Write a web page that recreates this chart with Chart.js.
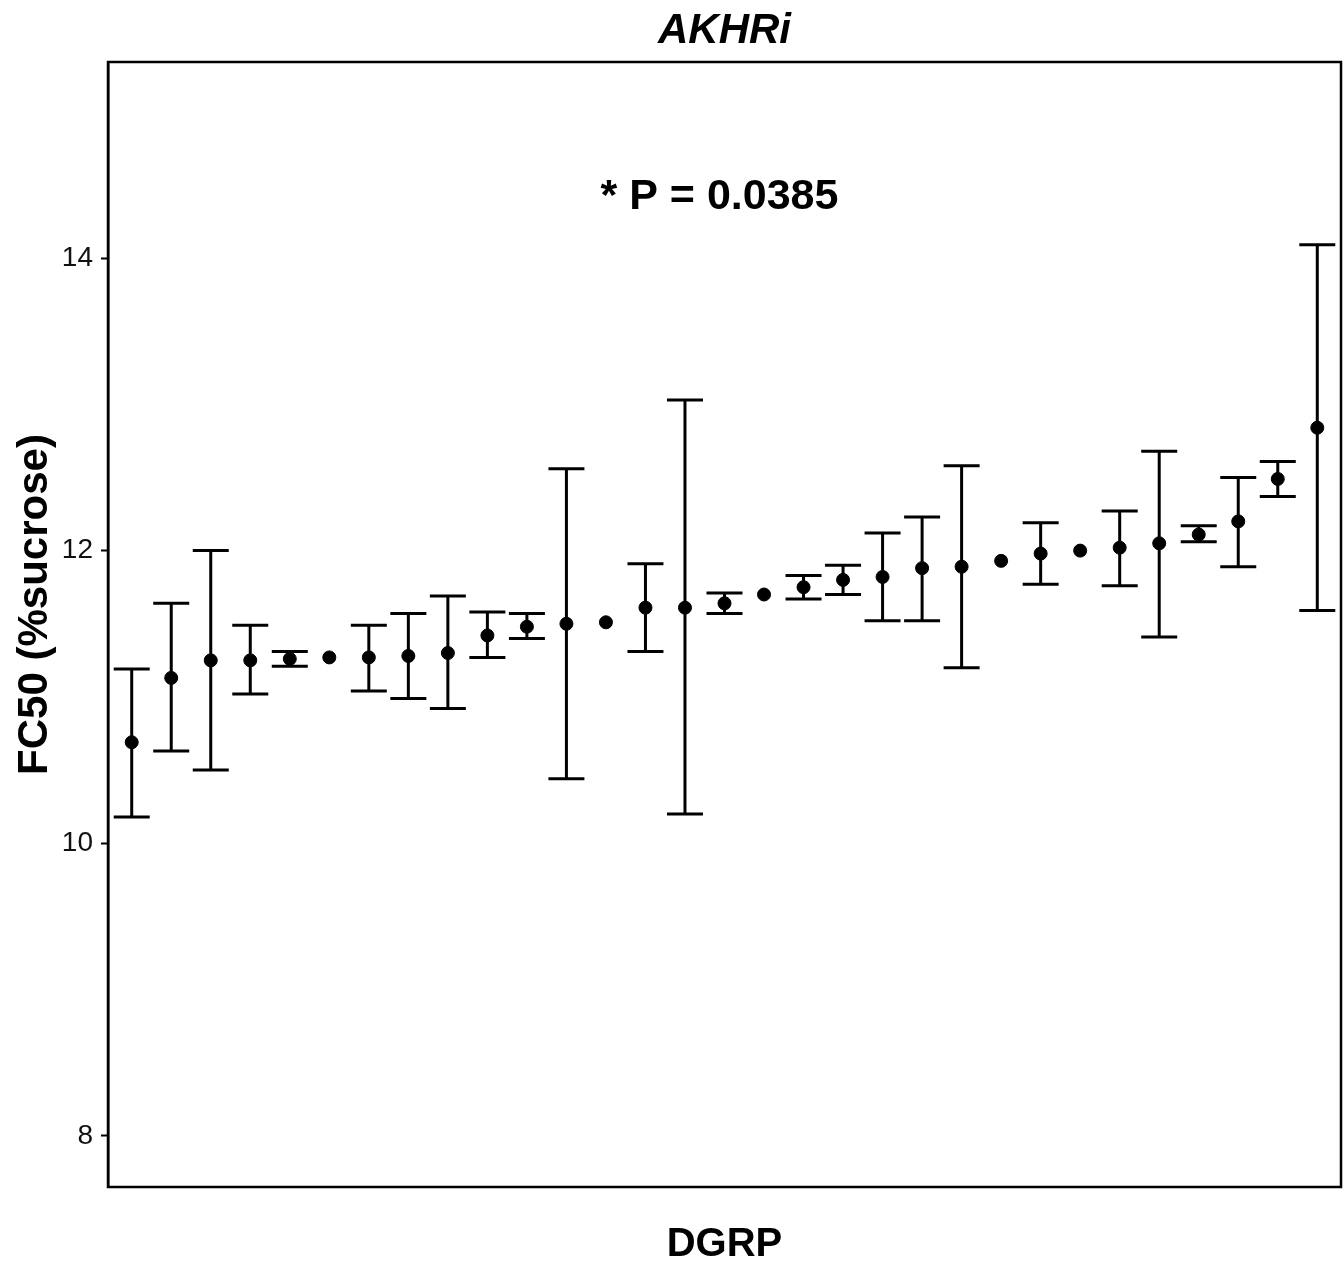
<!DOCTYPE html>
<html>
<head>
<meta charset="utf-8">
<title>AKHRi FC50</title>
<script src="https://cdn.jsdelivr.net/npm/chart.js@4.4.1/dist/chart.umd.min.js"></script>
<style>
  html, body { margin: 0; padding: 0; background: #fff; overflow: hidden; }
  #wrap { width: 1344px; height: 1262px; }
</style>
</head>
<body>
<div id="wrap"><canvas id="fc50Chart"></canvas></div>
<script>
// DGRP lines, ranked by FC50 (position on the x axis)
const lines = [1, 2, 3, 4, 5, 6, 7, 8, 9, 10, 11, 12, 13, 14, 15, 16,
               17, 18, 19, 20, 21, 22, 23, 24, 25, 26, 27, 28, 29, 30, 31];
// mean FC50 (% sucrose)
const fc50Mean = [10.69, 11.13, 11.25, 11.25, 11.26, 11.27, 11.27, 11.28, 11.30, 11.42,
                  11.48, 11.50, 11.51, 11.61, 11.61, 11.64, 11.70, 11.75, 11.80, 11.82,
                  11.88, 11.89, 11.93, 11.98, 12.00, 12.02, 12.05, 12.11, 12.20, 12.49, 12.84];
// error bar ends (null = no bar drawn)
const fc50Upper = [11.19, 11.64, 12.00, 11.49, 11.31, null, 11.49, 11.57, 11.69, 11.58,
                   11.57, 12.56, null, 11.91, 13.03, 11.71, null, 11.83, 11.90, 12.12,
                   12.23, 12.58, null, 12.19, null, 12.27, 12.68, 12.17, 12.50, 12.61, 14.09];
const fc50Lower = [10.18, 10.63, 10.50, 11.02, 11.21, null, 11.04, 10.99, 10.92, 11.27,
                   11.40, 10.44, null, 11.31, 10.20, 11.57, null, 11.67, 11.70, 11.52,
                   11.52, 11.20, null, 11.77, null, 11.76, 11.41, 12.06, 11.89, 12.37, 11.59];
const yTicks = [8, 10, 12, 14];

const FONT = "'Liberation Sans', Arial, sans-serif";
Chart.defaults.font.family = FONT;
Chart.defaults.color = '#000';

// whiskers with caps, drawn under the points
const errorBars = {
    id: 'errorBars',
    beforeDatasetsDraw(chart) {
        const { ctx, scales: { x, y } } = chart;
        ctx.save();
        ctx.strokeStyle = '#000';
        ctx.lineWidth = 3;
        lines.forEach((line, i) => {
            if (fc50Upper[i] == null) return;
            const px = x.getPixelForValue(line);
            const top = y.getPixelForValue(fc50Upper[i]);
            const bot = y.getPixelForValue(fc50Lower[i]);
            ctx.beginPath();
            ctx.moveTo(px, top); ctx.lineTo(px, bot);
            ctx.moveTo(px - 18, top); ctx.lineTo(px + 18, top);
            ctx.moveTo(px - 18, bot); ctx.lineTo(px + 18, bot);
            ctx.stroke();
        });
        ctx.restore();
    }
};

// panel frame, y title (sits a bit above centre in the original) and p-value note
const frameAndNote = {
    id: 'frameAndNote',
    afterDraw(chart) {
        const { ctx, chartArea: a } = chart;
        ctx.save();
        ctx.strokeStyle = '#000';
        ctx.lineWidth = 2.5;
        ctx.strokeRect(a.left, a.top, a.right - a.left, a.bottom - a.top);

        ctx.fillStyle = '#000';
        ctx.textAlign = 'center';
        ctx.textBaseline = 'middle';
        ctx.font = 'bold 42px ' + FONT;
        ctx.translate(35, (a.top + a.bottom) / 2 - 20);
        ctx.rotate(-Math.PI / 2);
        ctx.fillText('FC50 (%sucrose)', 0, 0);
        ctx.setTransform(1, 0, 0, 1, 0, 0);

        ctx.font = 'bold 43px ' + FONT;
        ctx.textBaseline = 'alphabetic';
        ctx.fillText('* P = 0.0385', (a.left + a.right) / 2 - 5, a.top + 147);
        ctx.restore();
    }
};

new Chart(document.getElementById('fc50Chart'), {
    type: 'scatter',
    data: {
        datasets: [{
            label: 'FC50',
            data: lines.map((line, i) => ({ x: line, y: fc50Mean[i] })),
            backgroundColor: '#000',
            borderColor: '#000',
            pointRadius: 6.5,
            pointHoverRadius: 6.5,
            showLine: false
        }]
    },
    options: {
        responsive: true,
        maintainAspectRatio: false,
        animation: false,
        devicePixelRatio: 1,
        layout: { autoPadding: false, padding: { left: 0, right: 3, top: 0, bottom: 0 } },
        plugins: {
            legend: { display: false },
            tooltip: { enabled: false },
            title: {
                display: true,
                fullSize: false,
                text: 'AKHRi',
                color: '#000',
                font: { size: 42, weight: 'bold', style: 'italic', lineHeight: 1.2 },
                padding: { top: 6, bottom: 5.6 }
            }
        },
        scales: {
            x: {
                type: 'linear',
                min: 0.4,
                max: 31.6,
                ticks: { display: false },
                grid: { display: false },
                border: { display: false },
                title: {
                    display: true,
                    text: 'DGRP',
                    color: '#000',
                    font: { size: 40, weight: 'bold', lineHeight: 1 },
                    padding: { top: 0, bottom: -3 }
                },
                afterFit(scale) { scale.height = 75; }
            },
            y: {
                min: 7.65,
                max: 15.34,
                afterBuildTicks(scale) {
                    scale.ticks = yTicks.map(v => ({ value: v }));
                },
                ticks: {
                    color: '#111',
                    font: { size: 28 },
                    padding: 8
                },
                grid: {
                    drawOnChartArea: false,
                    drawTicks: true,
                    tickLength: 7,
                    tickWidth: 2,
                    tickColor: '#000'
                },
                border: { display: true, color: '#000', width: 2.5 },
                afterFit(scale) { scale.width = 108; }
            }
        }
    },
    plugins: [errorBars, frameAndNote]
});
</script>
</body>
</html>
